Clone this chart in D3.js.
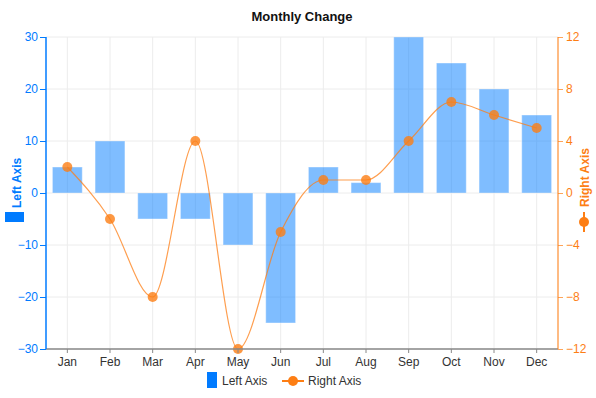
<!DOCTYPE html>
<html lang="en">
<head>
<meta charset="UTF-8">
<title>Monthly Change</title>
<script src="https://cdn.jsdelivr.net/npm/d3@7"></script>
<style>
  body { margin: 0; background: #fff; }
  svg { display: block; font-family: "Liberation Sans", Arial, sans-serif; }
</style>
</head>
<body>
<svg id="chart"></svg>
<script>
var months = ["Jan", "Feb", "Mar", "Apr", "May", "Jun", "Jul", "Aug", "Sep", "Oct", "Nov", "Dec"];
var leftValues = [5, 10, -5, -5, -10, -25, 5, 2, 30, 25, 20, 15];
var rightValues = [2, -2, -8, 4, -12, -3, 1, 1, 4, 7, 6, 5];
var leftTicks = [-30, -20, -10, 0, 10, 20, 30];
var rightTicks = [-12, -8, -4, 0, 4, 8, 12];

var width = 596, height = 398;
var margin = { top: 37, right: 38, bottom: 49, left: 46 };
var chartW = width - margin.left - margin.right;
var chartH = height - margin.top - margin.bottom;

var blue = "#007bff";
var orange = "#fd7e14";
var textColor = "#333";

var svg = d3.select("#chart").attr("width", width).attr("height", height);

// title
svg.append("text")
  .attr("x", width / 2 + 4)
  .attr("y", 21)
  .attr("text-anchor", "middle")
  .attr("font-size", 13)
  .attr("font-weight", "bold")
  .attr("fill", "#111")
  .text("Monthly Change");

var x = d3.scaleBand().domain(months).range([0, chartW]).paddingInner(0.3).paddingOuter(0.15);
var xc = function(m) { return x(m) + x.bandwidth() / 2; };
var yL = d3.scaleLinear().domain([-30, 30]).range([chartH, 0]);
var yR = d3.scaleLinear().domain([-12, 12]).range([chartH, 0]);

var plot = svg.append("g").attr("transform", "translate(" + margin.left + "," + margin.top + ")");

// grid
plot.append("g").selectAll("line").data(leftTicks).enter().append("line")
  .attr("x1", 0).attr("x2", chartW)
  .attr("y1", function(d) { return yL(d); }).attr("y2", function(d) { return yL(d); })
  .attr("stroke", "#ececec");
plot.append("g").selectAll("line").data(months).enter().append("line")
  .attr("x1", xc).attr("x2", xc)
  .attr("y1", 0).attr("y2", chartH)
  .attr("stroke", "#ececec");

// bars
plot.append("g").selectAll("rect").data(leftValues).enter().append("rect")
  .attr("x", function(d, i) { return x(months[i]); })
  .attr("width", x.bandwidth())
  .attr("y", function(d) { return yL(Math.max(0, d)); })
  .attr("height", function(d) { return Math.abs(yL(d) - yL(0)); })
  .attr("fill", blue)
  .attr("fill-opacity", 0.5)
  .attr("stroke", "#fff")
  .attr("stroke-opacity", 0.4);

// line
var line = d3.line()
  .x(function(d, i) { return xc(months[i]); })
  .y(function(d) { return yR(d); })
  .curve(d3.curveMonotoneX);

plot.append("path")
  .datum(rightValues)
  .attr("d", line)
  .attr("fill", "none")
  .attr("stroke", orange)
  .attr("stroke-opacity", 0.75)
  .attr("stroke-width", 1.2);

plot.append("g").selectAll("circle").data(rightValues).enter().append("circle")
  .attr("cx", function(d, i) { return xc(months[i]); })
  .attr("cy", function(d) { return yR(d); })
  .attr("r", 5)
  .attr("fill", orange)
  .attr("fill-opacity", 0.8);

// axes
var xAxis = plot.append("g").attr("transform", "translate(0," + chartH + ")")
  .call(d3.axisBottom(x).tickSize(4).tickPadding(4));
xAxis.select(".domain").attr("stroke", "#888").attr("stroke-width", 1.5).attr("d", "M0,0H" + chartW);
xAxis.selectAll(".tick line").attr("stroke", "#888");
xAxis.selectAll("text").attr("font-size", 12).attr("fill", textColor).attr("font-family", null);

var lAxis = plot.append("g")
  .call(d3.axisLeft(yL).tickValues(leftTicks).tickSize(6).tickPadding(2));
lAxis.select(".domain").attr("stroke", blue).attr("stroke-width", 1.5).attr("d", "M0,0V" + chartH);
lAxis.selectAll(".tick line").attr("stroke", blue);
lAxis.selectAll("text").attr("font-size", 12).attr("fill", blue).attr("font-family", null);

var rAxis = plot.append("g").attr("transform", "translate(" + chartW + ",0)")
  .call(d3.axisRight(yR).tickValues(rightTicks).tickSize(5).tickPadding(3));
rAxis.select(".domain").attr("stroke", orange).attr("stroke-opacity", 0.7).attr("stroke-width", 1.5).attr("d", "M0,0V" + chartH);
rAxis.selectAll(".tick line").attr("stroke", orange).attr("stroke-opacity", 0.7);
rAxis.selectAll("text").attr("font-size", 12).attr("fill", orange).attr("font-family", null);

// axis titles (rotated, with legend icon)
var midY = margin.top + chartH / 2 - 3;
var lt = svg.append("g").attr("transform", "translate(16," + midY + ") rotate(-90)");
lt.append("rect").attr("x", -32).attr("y", -11).attr("width", 10).attr("height", 19).attr("fill", blue);
lt.append("text").attr("x", -18).attr("y", 4.5)
  .attr("font-size", 12).attr("font-weight", "bold").attr("fill", blue).text("Left Axis");

var rt = svg.append("g").attr("transform", "translate(584," + midY + ") rotate(-90)");
rt.append("line").attr("x1", -42).attr("x2", -22).attr("y1", 0).attr("y2", 0)
  .attr("stroke", orange).attr("stroke-width", 2);
rt.append("circle").attr("cx", -32).attr("cy", 0).attr("r", 5).attr("fill", orange);
rt.append("text").attr("x", -17).attr("y", 4.5)
  .attr("font-size", 12).attr("font-weight", "bold").attr("fill", orange).text("Right Axis");

// legend
var lg = svg.append("g").attr("transform", "translate(0,380)");
lg.append("rect").attr("x", 207).attr("y", -8).attr("width", 10).attr("height", 16).attr("fill", blue);
lg.append("text").attr("x", 222).attr("y", 5).attr("font-size", 12).attr("fill", textColor).text("Left Axis");
lg.append("line").attr("x1", 282).attr("x2", 304).attr("y1", 1).attr("y2", 1)
  .attr("stroke", orange).attr("stroke-width", 2);
lg.append("circle").attr("cx", 293).attr("cy", 1).attr("r", 5).attr("fill", orange);
lg.append("text").attr("x", 308).attr("y", 5).attr("font-size", 12).attr("fill", textColor).text("Right Axis");
</script>
</body>
</html>
